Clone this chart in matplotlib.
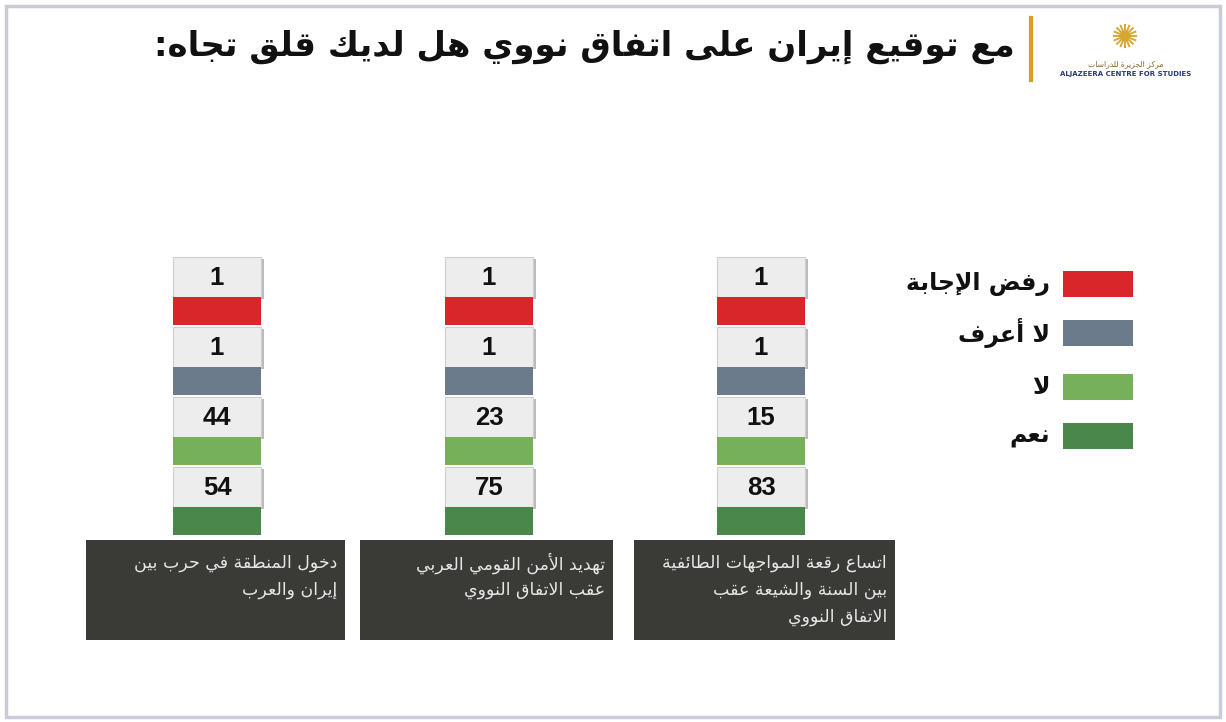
import matplotlib.pyplot as plt
from matplotlib.patches import Rectangle

# survey answers, top segment first; columns run right-to-left like the text
answers = ["رفض الإجابة", "لا أعرف", "لا", "نعم"]
answer_colors = ["#d9262b", "#6c7b8c", "#76b05a", "#4a874b"]
categories = [
    ["اتساع رقعة المواجهات الطائفية", "بين السنة والشيعة عقب", "الاتفاق النووي"],
    ["تهديد الأمن القومي العربي", "عقب الاتفاق النووي"],
    ["دخول المنطقة في حرب بين", "إيران والعرب"],
]
refuse = [1, 1, 1]
dont_know = [1, 1, 1]
no = [15, 23, 44]
yes = [83, 75, 54]
title = "مع توقيع إيران على اتفاق نووي هل لديك قلق تجاه:"


# minimal arabic shaping: contextual presentation forms + visual reversal
_counts = [1, 2, 2, 2, 2, 4, 2, 4, 2, 4, 4, 4, 4, 4, 2, 2, 2, 2, 4, 4, 4, 4, 4, 4, 4, 4,
           4, 4, 4, 4, 4, 4, 4, 2, 2, 4]
_letters = [chr(c) for c in range(0x0621, 0x063B)] + [chr(c) for c in range(0x0641, 0x064B)]
FORMS = {}
_code = 0xFE80
for ch, n in zip(_letters, _counts):
    FORMS[ch] = (_code, n)
    _code += n
LAM_ALEF = {"آ": 0xFEF5, "أ": 0xFEF7, "إ": 0xFEF9, "ا": 0xFEFB}


def ar(text):
    toks = []
    i = 0
    while i < len(text):
        c = text[i]
        if c == "ل" and i + 1 < len(text) and text[i + 1] in LAM_ALEF:
            toks.append(("LA", text[i + 1]))
            i += 2
        else:
            toks.append(c)
            i += 1

    def dual(t):
        return isinstance(t, str) and t in FORMS and FORMS[t][1] == 4

    def joinable(t):
        return isinstance(t, tuple) or t in FORMS

    out = []
    for k, t in enumerate(toks):
        prev_j = k > 0 and dual(toks[k - 1])
        if isinstance(t, tuple):
            out.append(chr(LAM_ALEF[t[1]] + (1 if prev_j else 0)))
            continue
        if t not in FORMS:
            out.append(t)
            continue
        base, n = FORMS[t]
        next_j = n == 4 and k + 1 < len(toks) and joinable(toks[k + 1])
        if n == 1:
            out.append(chr(base))
        elif n == 2:
            out.append(chr(base + (1 if prev_j else 0)))
        else:
            if prev_j and next_j:
                off = 3
            elif next_j:
                off = 2
            elif prev_j:
                off = 1
            else:
                off = 0
            out.append(chr(base + off))
    return "".join(reversed(out))


plt.rcParams["font.family"] = ["DejaVu Sans"]

fig = plt.figure(figsize=(12.26, 7.22), dpi=100)
ax = fig.add_axes([0, 0, 1, 1])
ax.set_xlim(0, 1226)
ax.set_ylim(722, 0)
ax.axis("off")

# page frame
ax.add_patch(Rectangle((6, 6), 1214, 711, fill=False, edgecolor="#c9ccd6", lw=2.5))

# header
ax.text(1015, 47, ar(title), ha="right", va="center", fontsize=24.5,
        fontweight="bold", color="#111111")
ax.plot([1031, 1031], [18, 80], color="#d4a11e", lw=3)
ax.text(1124, 38, "✺", ha="center", va="center", fontsize=24, color="#d8a730")
ax.text(1126, 64, ar("مركز الجزيرة للدراسات"), ha="center", va="center",
        fontsize=5.5, color="#8a6a2a")
ax.text(1126, 74, "ALJAZEERA CENTRE FOR STUDIES", ha="center", va="center",
        fontsize=5, color="#2a3a7a", fontweight="bold")

col_x = [761, 489, 217]
col_w = 88
seg_top = 257
seg_h = 70
box_h = 40
values = [refuse, dont_know, no, yes]

cap_left = [634, 360, 86]
cap_w = [261, 253, 259]

for c, x in enumerate(col_x):
    for s in range(4):
        y0 = seg_top + s * seg_h
        # value box with a soft drop shadow
        ax.add_patch(Rectangle((x - col_w / 2 + 3, y0 + 2), col_w, box_h,
                               facecolor="#8f8f8f", edgecolor="none", alpha=0.6))
        ax.add_patch(Rectangle((x - col_w / 2, y0), col_w, box_h,
                               facecolor="#ededed", edgecolor="#cfcfcf", lw=0.8))
        ax.text(x, y0 + box_h / 2 + 1, str(values[s][c]), ha="center", va="center",
                fontsize=18.5, fontweight="bold", color="#111111",
                family="Liberation Sans")
        ax.add_patch(Rectangle((x - col_w / 2, y0 + box_h), col_w, seg_h - box_h - 2,
                               facecolor=answer_colors[s], edgecolor="none"))

    # category caption box
    bx0 = cap_left[c]
    ax.add_patch(Rectangle((bx0, 540), cap_w[c], 100, facecolor="#3a3b37",
                           edgecolor="none"))
    for j, line in enumerate(categories[c]):
        ax.text(bx0 + cap_w[c] - 8, 563 + j * 27, ar(line), ha="right", va="center",
                fontsize=12.5, color="#e6e6e6")

# legend
leg_y = [284, 333, 387, 436]
for s in range(4):
    ax.add_patch(Rectangle((1063, leg_y[s] - 13), 70, 26,
                           facecolor=answer_colors[s], edgecolor="none"))
    ax.text(1050, leg_y[s], ar(answers[s]), ha="right", va="center",
            fontsize=17, fontweight="bold", color="#111111")

fig.savefig("out.png", dpi=100, facecolor="white")
